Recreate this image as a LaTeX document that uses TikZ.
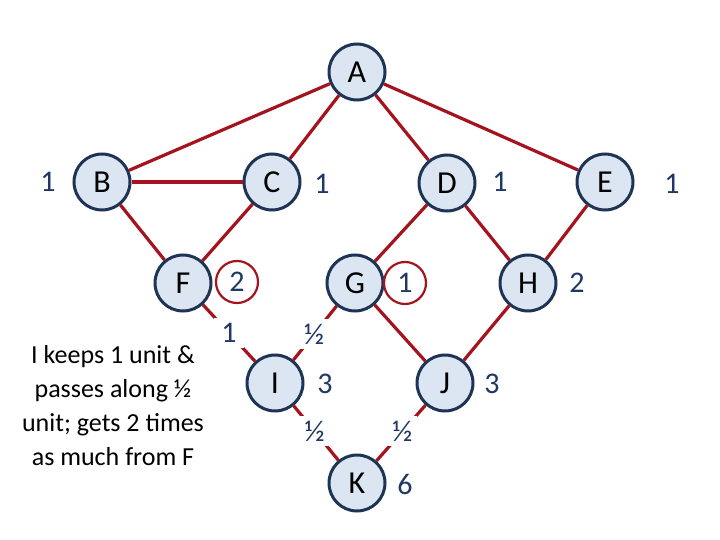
\documentclass[tikz,border=0pt]{standalone}
\usepackage{fontspec}
\setmainfont{Carlito}
\definecolor{edgec}{RGB}{165,20,30}
\definecolor{nodeb}{RGB}{31,52,84}
\definecolor{nodef}{RGB}{220,230,242}
\definecolor{lblc}{RGB}{31,56,100}
\begin{document}
\begin{tikzpicture}[x=1pt,y=-1pt,
  vert/.style={circle,draw=nodeb,line width=3pt,fill=nodef,minimum size=56pt,inner sep=0pt,font=\fontsize{32}{36}\selectfont},
  edge/.style={draw=edgec,line width=3.2pt},
  lbl/.style={text=lblc,inner sep=0pt,font=\fontsize{30}{34}\selectfont},
  cut/.style={fill=white,text=lblc,inner sep=0pt,minimum size=30pt,font=\fontsize{30}{34}\selectfont},
  ring/.style={circle,draw=edgec,line width=2.2pt,minimum size=42pt,inner sep=0pt,text=lblc,font=\fontsize{30}{34}\selectfont}]
\useasboundingbox (0,0) rectangle (720,540);
% nodes
\node[vert] (A) at (357,72) {A};
\node[vert] (B) at (102,182) {B};
\node[vert] (C) at (272,182) {C};
\node[vert] (D) at (447,183) {D};
\node[vert] (E) at (605,182) {E};
\node[vert] (F) at (183,283) {F};
\node[vert] (G) at (355,283) {G};
\node[vert] (H) at (528,283) {H};
\node[vert] (I) at (275,383) {I};
\node[vert] (J) at (445,383) {J};
\node[vert] (K) at (357,483) {K};
% edges
\draw[edge] (A) -- (B);
\draw[edge] (A) -- (C);
\draw[edge] (A) -- (D);
\draw[edge] (A) -- (E);
\draw[edge] (B) -- (C);
\draw[edge] (B) -- (F);
\draw[edge] (C) -- (F);
\draw[edge] (D) -- (G);
\draw[edge] (D) -- (H);
\draw[edge] (E) -- (H);
\draw[edge] (G) -- (J);
\draw[edge] (H) -- (J);
\draw[edge] (F) -- node[cut,pos=0.5] (lFI) {1} (I);
\draw[edge] (G) -- node[cut,pos=0.52] (lGI) {½} (I);
\draw[edge] (I) -- node[cut,pos=0.47] (lIK) {½} (K);
\draw[edge] (J) -- node[cut,pos=0.47] (lJK) {½} (K);
% value labels
\node[lbl] (lB) at (48,182) {1};
\node[lbl] (lC) at (322,184) {1};
\node[lbl] (lD) at (500,182) {1};
\node[lbl] (lE) at (672,184) {1};
\node[ring] (lF) at (237,282) {2};
\node[ring] (lG) at (405,283) {1};
\node[lbl] (lH) at (577,283) {2};
\node[lbl] (lI) at (325,384) {3};
\node[lbl] (lJ) at (492,384) {3};
\node[lbl] (lK) at (405,484) {6};
% note
\node[align=center,inner sep=0pt,font=\fontsize{26}{34}\selectfont] (note) at (113,406)
  {I keeps 1 unit \&\\ passes along ½\\ unit; gets 2 times\\ as much from F};
\end{tikzpicture}
\end{document}
